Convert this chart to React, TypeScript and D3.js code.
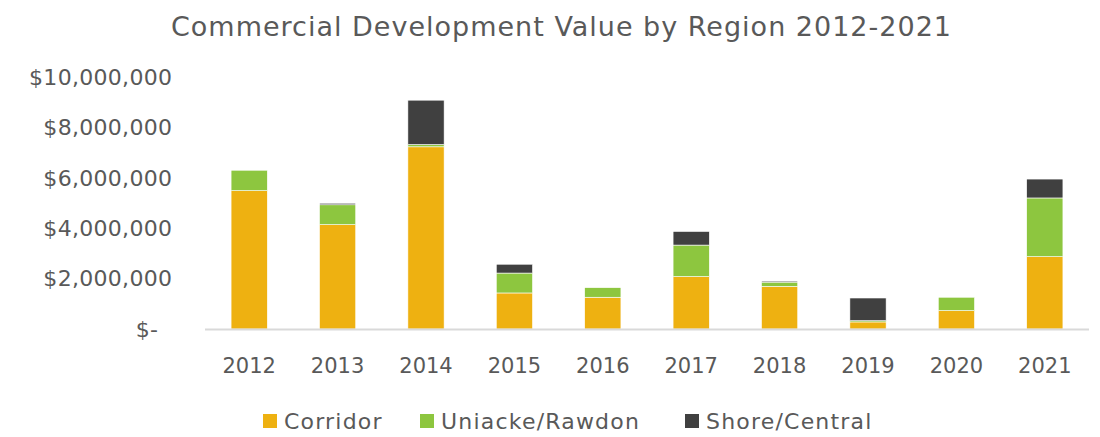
import * as d3 from "d3";
import { useEffect, useRef } from "react";

const years = ["2012", "2013", "2014", "2015", "2016", "2017", "2018", "2019", "2020", "2021"];
const corridor = [5490000, 4140000, 7230000, 1430000, 1260000, 2080000, 1690000, 280000, 730000, 2870000];
const uniacke = [810000, 790000, 90000, 790000, 380000, 1250000, 170000, 50000, 530000, 2330000];
const shore = [0, 60000, 1760000, 350000, 0, 540000, 40000, 900000, 0, 750000];
const seriesNames = ["Corridor", "Uniacke/Rawdon", "Shore/Central"];
const seriesColors = ["#EEB111", "#8DC63F", "#404040"];
const yTicks = [0, 2000000, 4000000, 6000000, 8000000, 10000000];

export default function App() {
  const svgRef = useRef<SVGSVGElement>(null);
  const width = 1100;
  const height = 437;

  useEffect(() => {
    const svg = d3.select(svgRef.current);
    svg.selectAll("*").remove();
    const font = "'DejaVu Sans', sans-serif";
    const textColor = "#595959";
    const ls = 0.3;

    const x = d3.scaleBand<string>().domain(years).range([205, 1089]).paddingInner(0.59).paddingOuter(0.295);
    const y = d3.scaleLinear().domain([0, 10000000]).range([329, 77]);

    const rows = years.map((yr, i) => ({ year: yr, s0: corridor[i], s1: uniacke[i], s2: shore[i] }));
    const stacked = d3.stack<any>().keys(["s0", "s1", "s2"])(rows);

    // title
    svg.append("text")
      .attr("x", 561.5).attr("y", 36)
      .attr("text-anchor", "middle")
      .attr("font-family", font).attr("font-size", 27)
      .attr("letter-spacing", 1)
      .attr("fill", textColor)
      .text("Commercial Development Value by Region 2012-2021");

    // y labels
    const fmt = (v: number) => (v === 0 ? "$-" : "$" + d3.format(",")(v));
    svg.append("g").selectAll("text").data(yTicks).enter().append("text")
      .attr("x", (d) => (d === 0 ? 158 : 172) + ls)
      .attr("y", (d) => y(d))
      .attr("dy", "0.35em")
      .attr("text-anchor", "end")
      .attr("font-family", font).attr("font-size", 22)
      .attr("letter-spacing", ls)
      .attr("fill", textColor)
      .text(fmt);

    // bars
    svg.append("g").selectAll("g").data(stacked).enter().append("g")
      .attr("fill", (_d, i) => seriesColors[i])
      .selectAll("rect").data((d) => d).enter().append("rect")
      .attr("x", (d) => x(d.data.year)!)
      .attr("width", x.bandwidth())
      .attr("y", (d) => y(d[1]))
      .attr("height", (d) => y(d[0]) - y(d[1]))
      .attr("stroke", "#fff").attr("stroke-width", 0.6);

    // axis line
    svg.append("line")
      .attr("x1", 205).attr("x2", 1089).attr("y1", 329.5).attr("y2", 329.5)
      .attr("stroke", "#d9d9d9").attr("stroke-width", 2);

    // x labels
    svg.append("g").selectAll("text").data(years).enter().append("text")
      .attr("x", (d) => x(d)! + x.bandwidth() / 2)
      .attr("y", 366)
      .attr("dy", "0.35em")
      .attr("text-anchor", "middle")
      .attr("font-family", font).attr("font-size", 21)
      .attr("fill", textColor)
      .text((d) => d);

    // legend
    const legendX = [263, 420, 685];
    const lg = svg.append("g");
    seriesNames.forEach((name, i) => {
      lg.append("rect").attr("x", legendX[i]).attr("y", 414).attr("width", 14).attr("height", 14)
        .attr("fill", seriesColors[i]);
      lg.append("text").attr("x", legendX[i] + 21).attr("y", 421).attr("dy", "0.35em")
        .attr("font-family", font).attr("font-size", 22).attr("fill", textColor)
        .attr("letter-spacing", 1.2)
        .text(name);
    });
  }, []);

  return (
    <div style={{ position: "absolute", left: 0, top: 0, width, height, background: "#fff" }}>
      <svg ref={svgRef} width={width} height={height}></svg>
    </div>
  );
}
